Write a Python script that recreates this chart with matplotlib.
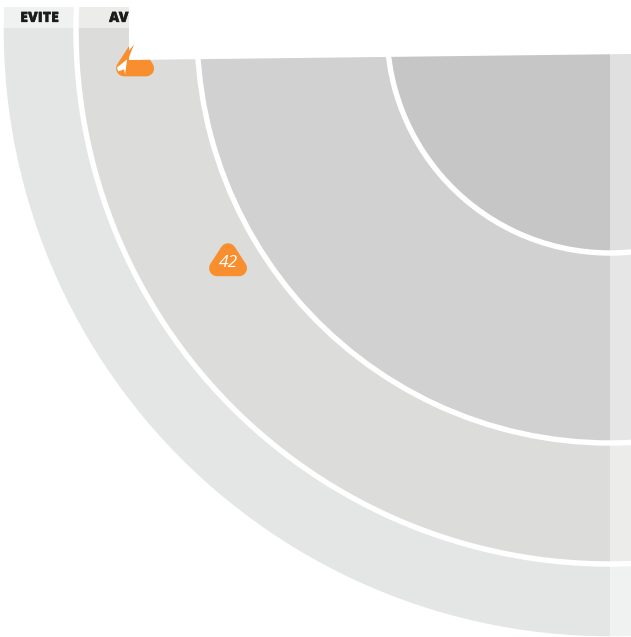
import matplotlib
matplotlib.use('Agg')
from matplotlib import pyplot as plt
from matplotlib.patches import Wedge, Rectangle, Polygon
import matplotlib.patheffects as pe
import numpy as np

# ring edges, in pixels from the centre of the quadrant
ring_names = ['EVITE', 'AVOID', 'TRY', 'USE']
ring_outer = [609, 534, 413, 223]
ring_colors = ['#e4e6e5', '#dcdcda', '#d1d1d1', '#c6c6c6']

# blips: angle from the left, distance from the centre
blip_labels = ['42']
blip_angle = [31.3]
blip_dist = [447]
# this one is cut by the page block in the original
cut_angle = 3.9
cut_dist = 476

orange = '#f98e2f'
cx, cy = 610, 30


def blip(x, y, z=3):
    ax.add_patch(Polygon([(x - 11, y + 6), (x + 11, y + 6), (x, y - 11)],
                         facecolor=orange, edgecolor=orange, linewidth=11.5,
                         joinstyle='round', zorder=z))


fig = plt.figure(figsize=(6.31, 6.37), dpi=100)
ax = fig.add_axes([0, 0, 1, 1])
ax.set_xlim(0, 631)
ax.set_ylim(637, 0)
ax.axis('off')

band = Rectangle((0, 7), 631, 630, transform=ax.transData)
for r, c in zip(ring_outer, ring_colors):
    w = Wedge((cx, cy), r, -10, 190, facecolor=c, edgecolor='white', linewidth=3.9)
    ax.add_patch(w)
    w.set_clip_path(band)

# paler strips for the header and the right edge
ax.add_patch(Rectangle((0, 7), 631, 21, facecolor='white', alpha=0.47, linewidth=0))
ax.add_patch(Rectangle((610, 28), 21, 609, facecolor='white', alpha=0.47, linewidth=0))

heavy = [pe.withStroke(linewidth=0.2, foreground='#1c1c1c')]
ax.text(39.5, 18, ring_names[0], ha='center', va='center', fontsize=10.2,
        fontweight=800, family='Open Sans', color='#1c1c1c', path_effects=heavy)
ax.text(109, 18, ring_names[1], ha='left', va='center', fontsize=10.2,
        fontweight=800, family='Open Sans', color='#1c1c1c', path_effects=heavy)

for lab, a, d in zip(blip_labels, blip_angle, blip_dist):
    t = np.radians(a)
    x = cx - d * np.cos(t)
    y = cy + d * np.sin(t)
    blip(x, y)
    ax.text(x, y + 0.5, lab, ha='center', va='center', fontsize=12.5, style='italic',
            family='Open Sans', color='white', zorder=4)

t = np.radians(cut_angle)
bx = cx - cut_dist * np.cos(t)
by = cy + cut_dist * np.sin(t)
blip(bx, by)

# white page block on top
ax.add_patch(Polygon([(129, 0), (631, 0), (631, 54), (129, 60)], facecolor='white', linewidth=0, zorder=5))

# torn sliver and white slash on the cut blip
ax.add_patch(Polygon([(bx - 1, by - 18), (bx - 16, by), (bx - 7, by - 3)], facecolor=orange, linewidth=0, zorder=6))
ax.add_patch(Polygon([(bx - 8, by - 3), (bx - 18, by + 5), (bx - 17, by + 9), (bx - 11, by + 7),
                      (bx - 10, by + 12)], facecolor='white', linewidth=0, zorder=7))

fig.savefig('out.png', dpi=100)
